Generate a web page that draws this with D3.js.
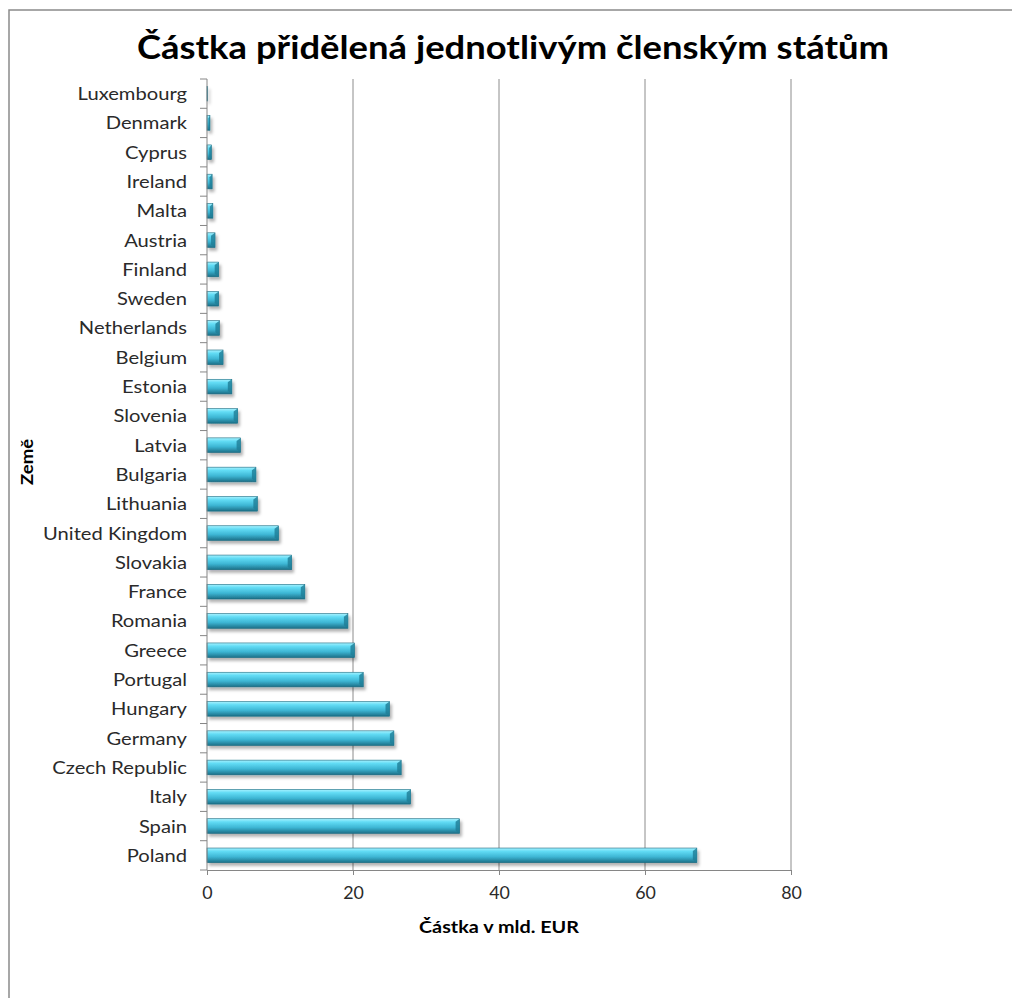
<!DOCTYPE html>
<html>
<head>
<meta charset="utf-8">
<script src="https://cdn.jsdelivr.net/npm/d3@7"></script>
<style>
  body { margin: 0; background: #fff; }
  svg { display: block; font-family: Lato, "Open Sans", sans-serif; }
</style>
</head>
<body>
<div id="chart"></div>
<script>
// countries, top to bottom as shown
const countries = ['Luxembourg', 'Denmark', 'Cyprus', 'Ireland', 'Malta', 'Austria',
  'Finland', 'Sweden', 'Netherlands', 'Belgium', 'Estonia', 'Slovenia', 'Latvia',
  'Bulgaria', 'Lithuania', 'United Kingdom', 'Slovakia', 'France', 'Romania', 'Greece',
  'Portugal', 'Hungary', 'Germany', 'Czech Republic', 'Italy', 'Spain', 'Poland'];
// billions EUR
const amounts = [0.1, 0.4, 0.6, 0.7, 0.8, 1.1,
  1.6, 1.6, 1.7, 2.2, 3.4, 4.2, 4.6,
  6.7, 6.9, 9.8, 11.6, 13.4, 19.3, 20.2,
  21.4, 25.0, 25.6, 26.6, 27.9, 34.6, 67.1];
const xTicks = [0, 20, 40, 60, 80];

const titleText = 'Částka přidělená jednotlivým členským státům';
const xTitle = 'Částka v mld. EUR';
const yTitle = 'Země';

const width = 1012, height = 998;
const margin = { left: 207, right: 221, top: 79, bottom: 128 };

// the original looks horizontally stretched, widen text to match
function stretch(sel, k) {
  sel.each(function () {
    const len = this.getComputedTextLength();
    d3.select(this).attr('textLength', len * k).attr('lengthAdjust', 'spacingAndGlyphs');
  });
}

const svg = d3.select('#chart').append('svg')
  .attr('width', width)
  .attr('height', height);

const defs = svg.append('defs');
const grad = defs.append('linearGradient')
  .attr('id', 'barGrad')
  .attr('x1', 0).attr('y1', 0).attr('x2', 0).attr('y2', 1);
grad.append('stop').attr('offset', '0%').attr('stop-color', '#a8f2ff');
grad.append('stop').attr('offset', '22%').attr('stop-color', '#62dcf5');
grad.append('stop').attr('offset', '60%').attr('stop-color', '#3db6d4');
grad.append('stop').attr('offset', '100%').attr('stop-color', '#1c6f87');

const shadow = defs.append('filter').attr('id', 'shadow')
  .attr('x', '-10%').attr('y', '-40%').attr('width', '130%').attr('height', '200%');
shadow.append('feDropShadow')
  .attr('dx', 2).attr('dy', 3).attr('stdDeviation', 1.8)
  .attr('flood-color', '#000').attr('flood-opacity', 0.3);

// outer chart frame (extends past the window on the right and bottom)
svg.append('rect')
  .attr('x', 9).attr('y', 10)
  .attr('width', 1100).attr('height', 1100)
  .attr('fill', 'none')
  .attr('stroke', '#8a8a8a')
  .attr('stroke-width', 1.5);

const x = d3.scaleLinear()
  .domain([0, 80])
  .range([margin.left, width - margin.right]);

const y = d3.scaleBand()
  .domain(countries)
  .range([margin.top, height - margin.bottom])
  .paddingInner(0.5)
  .paddingOuter(0.25);

const plotBottom = height - margin.bottom;

// vertical gridlines
svg.append('g')
  .selectAll('line')
  .data(xTicks.slice(1))
  .join('line')
  .attr('x1', d => x(d)).attr('x2', d => x(d))
  .attr('y1', margin.top).attr('y2', plotBottom)
  .attr('stroke', '#8c8c8c')
  .attr('stroke-width', 1);

// bars
const bars = svg.append('g').attr('filter', 'url(#shadow)');
bars.selectAll('rect')
  .data(countries)
  .join('rect')
  .attr('x', x(0))
  .attr('y', d => y(d))
  .attr('width', (d, i) => x(amounts[i]) - x(0))
  .attr('height', y.bandwidth())
  .attr('fill', 'url(#barGrad)')
  .attr('stroke', '#1a6a80')
  .attr('stroke-width', 0.6);

// bevelled right end
bars.selectAll('path')
  .data(countries)
  .join('path')
  .attr('d', (d, i) => {
    const x1 = x(amounts[i]);
    const y0 = y(d), h = y.bandwidth();
    const b = Math.min(4, (x1 - x(0)) / 2);
    return `M${x1 - b},${y0 + 3}L${x1},${y0}L${x1},${y0 + h}L${x1 - b},${y0 + h - 3}Z`;
  })
  .attr('fill', '#1f7d96')
  .attr('opacity', 0.8);

// y axis
const yAxis = svg.append('g')
  .attr('transform', `translate(${x(0)},0)`);
yAxis.append('line')
  .attr('x1', 0).attr('x2', 0)
  .attr('y1', margin.top).attr('y2', plotBottom)
  .attr('stroke', '#868686');
const step = y.step();
yAxis.selectAll('line.tick')
  .data(d3.range(countries.length + 1))
  .join('line')
  .attr('class', 'tick')
  .attr('x1', -7).attr('x2', 0)
  .attr('y1', i => margin.top + i * step)
  .attr('y2', i => margin.top + i * step)
  .attr('stroke', '#868686');
yAxis.selectAll('text')
  .data(countries)
  .join('text')
  .attr('x', -20)
  .attr('y', d => y(d) + y.bandwidth() / 2)
  .attr('dy', '0.36em')
  .attr('text-anchor', 'end')
  .attr('font-size', 18)
  .attr('fill', '#2a2a2a')
  .text(d => d)
  .call(stretch, 1.12);

// x axis
const xAxis = svg.append('g')
  .attr('transform', `translate(0,${plotBottom})`)
  .call(d3.axisBottom(x).tickValues(xTicks).tickSize(5).tickPadding(12));
xAxis.select('.domain').attr('stroke', '#868686');
xAxis.selectAll('.tick line').attr('stroke', '#868686');
xAxis.selectAll('.tick text')
  .attr('font-size', 17)
  .attr('font-family', 'Lato, sans-serif')
  .attr('fill', '#2a2a2a')
  .call(stretch, 1.05);

// titles
svg.append('text')
  .attr('x', 513).attr('y', 59)
  .attr('text-anchor', 'middle')
  .attr('font-size', 32)
  .attr('font-weight', 'bold')
  .attr('fill', '#000')
  .text(titleText)
  .attr('textLength', 752)
  .attr('lengthAdjust', 'spacingAndGlyphs');

svg.append('text')
  .attr('x', x(40)).attr('y', 933)
  .attr('text-anchor', 'middle')
  .attr('font-size', 17)
  .attr('font-weight', 'bold')
  .attr('fill', '#000')
  .text(xTitle)
  .attr('textLength', 160)
  .attr('lengthAdjust', 'spacingAndGlyphs');

svg.append('text')
  .attr('transform', `translate(33,462) rotate(-90)`)
  .attr('text-anchor', 'middle')
  .attr('font-size', 17)
  .attr('font-weight', 'bold')
  .attr('fill', '#000')
  .text(yTitle)
  .attr('textLength', 46)
  .attr('lengthAdjust', 'spacingAndGlyphs');
</script>
</body>
</html>
